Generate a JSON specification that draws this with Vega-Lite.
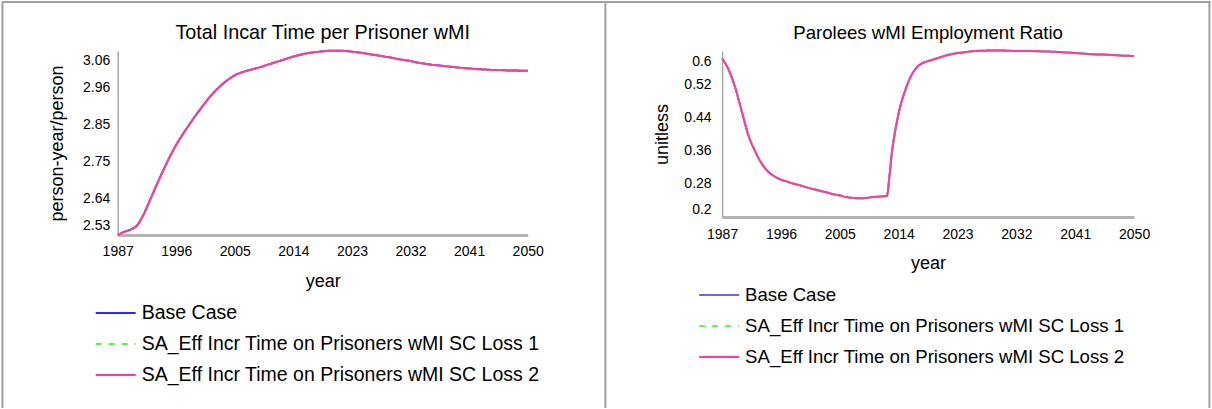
{
  "$schema": "https://vega.github.io/schema/vega-lite/v6.json",
  "background": "white",
  "padding": {"left": 1.5, "top": 1.5, "right": 0, "bottom": 0},
  "datasets": {
    "incar": [
      {"year": 1987, "base": 2.530, "sa1": 2.530, "sa2": 2.530}, {"year": 1988, "base": 2.539, "sa1": 2.539, "sa2": 2.539},
      {"year": 1989, "base": 2.546, "sa1": 2.546, "sa2": 2.546}, {"year": 1990, "base": 2.558, "sa1": 2.558, "sa2": 2.558},
      {"year": 1991, "base": 2.590, "sa1": 2.590, "sa2": 2.590}, {"year": 1992, "base": 2.632, "sa1": 2.632, "sa2": 2.632},
      {"year": 1993, "base": 2.675, "sa1": 2.675, "sa2": 2.675}, {"year": 1994, "base": 2.716, "sa1": 2.716, "sa2": 2.716},
      {"year": 1995, "base": 2.755, "sa1": 2.755, "sa2": 2.755}, {"year": 1996, "base": 2.790, "sa1": 2.790, "sa2": 2.790},
      {"year": 1997, "base": 2.820, "sa1": 2.820, "sa2": 2.820}, {"year": 1998, "base": 2.848, "sa1": 2.848, "sa2": 2.848},
      {"year": 1999, "base": 2.875, "sa1": 2.875, "sa2": 2.875}, {"year": 2000, "base": 2.900, "sa1": 2.900, "sa2": 2.900},
      {"year": 2001, "base": 2.924, "sa1": 2.924, "sa2": 2.924}, {"year": 2002, "base": 2.945, "sa1": 2.945, "sa2": 2.945},
      {"year": 2003, "base": 2.963, "sa1": 2.963, "sa2": 2.963}, {"year": 2004, "base": 2.978, "sa1": 2.978, "sa2": 2.978},
      {"year": 2005, "base": 2.990, "sa1": 2.990, "sa2": 2.990}, {"year": 2006, "base": 2.998, "sa1": 2.998, "sa2": 2.998},
      {"year": 2007, "base": 3.004, "sa1": 3.004, "sa2": 3.004}, {"year": 2008, "base": 3.009, "sa1": 3.009, "sa2": 3.009},
      {"year": 2009, "base": 3.014, "sa1": 3.014, "sa2": 3.014}, {"year": 2010, "base": 3.020, "sa1": 3.020, "sa2": 3.020},
      {"year": 2011, "base": 3.026, "sa1": 3.026, "sa2": 3.026}, {"year": 2012, "base": 3.032, "sa1": 3.032, "sa2": 3.032},
      {"year": 2013, "base": 3.038, "sa1": 3.038, "sa2": 3.038}, {"year": 2014, "base": 3.044, "sa1": 3.044, "sa2": 3.044},
      {"year": 2015, "base": 3.049, "sa1": 3.049, "sa2": 3.049}, {"year": 2016, "base": 3.053, "sa1": 3.053, "sa2": 3.053},
      {"year": 2017, "base": 3.056, "sa1": 3.056, "sa2": 3.056}, {"year": 2018, "base": 3.058, "sa1": 3.058, "sa2": 3.058},
      {"year": 2019, "base": 3.060, "sa1": 3.060, "sa2": 3.060}, {"year": 2020, "base": 3.061, "sa1": 3.061, "sa2": 3.061},
      {"year": 2021, "base": 3.061, "sa1": 3.061, "sa2": 3.061}, {"year": 2022, "base": 3.060, "sa1": 3.060, "sa2": 3.060},
      {"year": 2023, "base": 3.058, "sa1": 3.058, "sa2": 3.058}, {"year": 2024, "base": 3.056, "sa1": 3.056, "sa2": 3.056},
      {"year": 2025, "base": 3.053, "sa1": 3.053, "sa2": 3.053}, {"year": 2026, "base": 3.050, "sa1": 3.050, "sa2": 3.050},
      {"year": 2027, "base": 3.047, "sa1": 3.047, "sa2": 3.047}, {"year": 2028, "base": 3.044, "sa1": 3.044, "sa2": 3.044},
      {"year": 2029, "base": 3.041, "sa1": 3.041, "sa2": 3.041}, {"year": 2030, "base": 3.037, "sa1": 3.037, "sa2": 3.037},
      {"year": 2031, "base": 3.034, "sa1": 3.034, "sa2": 3.034}, {"year": 2032, "base": 3.031, "sa1": 3.031, "sa2": 3.031},
      {"year": 2033, "base": 3.027, "sa1": 3.027, "sa2": 3.027}, {"year": 2034, "base": 3.024, "sa1": 3.024, "sa2": 3.024},
      {"year": 2035, "base": 3.021, "sa1": 3.021, "sa2": 3.021}, {"year": 2036, "base": 3.019, "sa1": 3.019, "sa2": 3.019},
      {"year": 2037, "base": 3.017, "sa1": 3.017, "sa2": 3.017}, {"year": 2038, "base": 3.015, "sa1": 3.015, "sa2": 3.015},
      {"year": 2039, "base": 3.013, "sa1": 3.013, "sa2": 3.013}, {"year": 2040, "base": 3.011, "sa1": 3.011, "sa2": 3.011},
      {"year": 2041, "base": 3.010, "sa1": 3.010, "sa2": 3.010}, {"year": 2042, "base": 3.008, "sa1": 3.008, "sa2": 3.008},
      {"year": 2043, "base": 3.007, "sa1": 3.007, "sa2": 3.007}, {"year": 2044, "base": 3.006, "sa1": 3.006, "sa2": 3.006},
      {"year": 2045, "base": 3.005, "sa1": 3.005, "sa2": 3.005}, {"year": 2046, "base": 3.005, "sa1": 3.005, "sa2": 3.005},
      {"year": 2047, "base": 3.004, "sa1": 3.004, "sa2": 3.004}, {"year": 2048, "base": 3.004, "sa1": 3.004, "sa2": 3.004},
      {"year": 2049, "base": 3.003, "sa1": 3.003, "sa2": 3.003}, {"year": 2050, "base": 3.003, "sa1": 3.003, "sa2": 3.003}
    ],
    "parole": [
      {"year": 1987, "base": 0.582, "sa1": 0.582, "sa2": 0.582}, {"year": 1988, "base": 0.555, "sa1": 0.555, "sa2": 0.555},
      {"year": 1989, "base": 0.512, "sa1": 0.512, "sa2": 0.512}, {"year": 1990, "base": 0.455, "sa1": 0.455, "sa2": 0.455},
      {"year": 1991, "base": 0.398, "sa1": 0.398, "sa2": 0.398}, {"year": 1992, "base": 0.360, "sa1": 0.360, "sa2": 0.360},
      {"year": 1993, "base": 0.330, "sa1": 0.330, "sa2": 0.330}, {"year": 1994, "base": 0.310, "sa1": 0.310, "sa2": 0.310},
      {"year": 1995, "base": 0.298, "sa1": 0.298, "sa2": 0.298}, {"year": 1996, "base": 0.290, "sa1": 0.290, "sa2": 0.290},
      {"year": 1997, "base": 0.285, "sa1": 0.285, "sa2": 0.285}, {"year": 1998, "base": 0.280, "sa1": 0.280, "sa2": 0.280},
      {"year": 1999, "base": 0.276, "sa1": 0.276, "sa2": 0.276}, {"year": 2000, "base": 0.271, "sa1": 0.271, "sa2": 0.271},
      {"year": 2001, "base": 0.267, "sa1": 0.267, "sa2": 0.267}, {"year": 2002, "base": 0.263, "sa1": 0.263, "sa2": 0.263},
      {"year": 2003, "base": 0.259, "sa1": 0.259, "sa2": 0.259}, {"year": 2004, "base": 0.255, "sa1": 0.255, "sa2": 0.255},
      {"year": 2005, "base": 0.252, "sa1": 0.252, "sa2": 0.252}, {"year": 2006, "base": 0.248, "sa1": 0.248, "sa2": 0.248},
      {"year": 2007, "base": 0.246, "sa1": 0.246, "sa2": 0.246}, {"year": 2008, "base": 0.245, "sa1": 0.245, "sa2": 0.245},
      {"year": 2009, "base": 0.246, "sa1": 0.246, "sa2": 0.246}, {"year": 2010, "base": 0.248, "sa1": 0.248, "sa2": 0.248},
      {"year": 2011, "base": 0.249, "sa1": 0.249, "sa2": 0.249}, {"year": 2012.2, "base": 0.251, "sa1": 0.251, "sa2": 0.251},
      {"year": 2012.6, "base": 0.300, "sa1": 0.300, "sa2": 0.300}, {"year": 2013, "base": 0.360, "sa1": 0.360, "sa2": 0.360},
      {"year": 2013.5, "base": 0.410, "sa1": 0.410, "sa2": 0.410}, {"year": 2014, "base": 0.450, "sa1": 0.450, "sa2": 0.450},
      {"year": 2015, "base": 0.505, "sa1": 0.505, "sa2": 0.505}, {"year": 2016, "base": 0.543, "sa1": 0.543, "sa2": 0.543},
      {"year": 2017, "base": 0.564, "sa1": 0.564, "sa2": 0.564}, {"year": 2018, "base": 0.573, "sa1": 0.573, "sa2": 0.573},
      {"year": 2019, "base": 0.578, "sa1": 0.578, "sa2": 0.578}, {"year": 2020, "base": 0.583, "sa1": 0.583, "sa2": 0.583},
      {"year": 2021, "base": 0.588, "sa1": 0.588, "sa2": 0.588}, {"year": 2022, "base": 0.592, "sa1": 0.592, "sa2": 0.592},
      {"year": 2023, "base": 0.595, "sa1": 0.595, "sa2": 0.595}, {"year": 2024, "base": 0.597, "sa1": 0.597, "sa2": 0.597},
      {"year": 2025, "base": 0.599, "sa1": 0.599, "sa2": 0.599}, {"year": 2026, "base": 0.600, "sa1": 0.600, "sa2": 0.600},
      {"year": 2028, "base": 0.601, "sa1": 0.601, "sa2": 0.601}, {"year": 2030, "base": 0.601, "sa1": 0.601, "sa2": 0.601},
      {"year": 2032, "base": 0.600, "sa1": 0.600, "sa2": 0.600}, {"year": 2034, "base": 0.600, "sa1": 0.600, "sa2": 0.600},
      {"year": 2036, "base": 0.599, "sa1": 0.599, "sa2": 0.599}, {"year": 2038, "base": 0.598, "sa1": 0.598, "sa2": 0.598},
      {"year": 2040, "base": 0.596, "sa1": 0.596, "sa2": 0.596}, {"year": 2042, "base": 0.594, "sa1": 0.594, "sa2": 0.594},
      {"year": 2044, "base": 0.592, "sa1": 0.592, "sa2": 0.592}, {"year": 2046, "base": 0.591, "sa1": 0.591, "sa2": 0.591},
      {"year": 2048, "base": 0.589, "sa1": 0.589, "sa2": 0.589}, {"year": 2050, "base": 0.588, "sa1": 0.588, "sa2": 0.588}
    ]
  },
  "config": {
    "font": "Liberation Sans",
    "view": {"stroke": null},
    "axis": {"ticks": false, "grid": false, "labelColor": "#000000", "labelFontSize": 14, "titleFontSize": 18, "titleFontWeight": "normal", "titleColor": "#000000", "domainColor": "#a8a8a8"},
    "title": {"fontSize": 19, "fontWeight": "normal", "color": "#000000", "offset": 4},
    "legend": {"padding": 0, "labelFontSize": 19.5, "labelColor": "#000000", "symbolType": "M-2,0L2,0", "symbolSize": 400, "symbolStrokeWidth": 2, "labelOffset": 15, "rowPadding": 10, "labelLimit": 600}
  },
  "bounds": "flush",
  "spacing": 48.5,
  "resolve": {"scale": {"color": "independent", "strokeDash": "independent"}, "legend": {"color": "independent", "strokeDash": "independent"}},
  "vconcat": [
    {
      "width": 1208,
      "height": 1,
      "data": {"values": []},
      "mark": "point",
      "encoding": {"x": {"field": "a", "type": "quantitative", "scale": {"domain": [0, 1]},
        "axis": {"orient": "top", "offset": 0, "position": -37.6, "labels": false, "ticks": false, "grid": false, "title": null, "domainColor": "#a0a0a0", "domainWidth": 2}}}
    },
    {
      "bounds": "flush",
      "spacing": 77.2,
      "resolve": {"scale": {"color": "independent", "strokeDash": "independent"}, "legend": {"color": "independent", "strokeDash": "independent"}},
      "hconcat": [
        {
          "width": 1,
          "height": 406,
          "data": {"values": []},
          "mark": "point",
          "encoding": {"y": {"field": "a", "type": "quantitative", "scale": {"domain": [0, 1]},
            "axis": {"orient": "left", "offset": 37.6, "position": -49.5, "labels": false, "ticks": false, "grid": false, "title": null, "domainColor": "#a0a0a0", "domainWidth": 2}}}
        },
        {
          "width": 410,
          "height": 184,
          "title": {"text": "Total Incar Time per Prisoner wMI", "fontSize": 19.8},
          "data": {"name": "incar"},
          "transform": [
            {"fold": ["base", "sa1", "sa2"], "as": ["key", "value"]},
            {"lookup": "key", "from": {"data": {"values": [
              {"key": "base", "series": "Base Case"},
              {"key": "sa1", "series": "SA_Eff Incr Time on Prisoners wMI SC Loss 1"},
              {"key": "sa2", "series": "SA_Eff Incr Time on Prisoners wMI SC Loss 2"}]}, "key": "key", "fields": ["series"]}}
          ],
          "mark": {"type": "line", "strokeWidth": 2, "interpolate": "monotone"},
          "encoding": {
            "x": {"field": "year", "type": "quantitative", "scale": {"domain": [1987, 2050], "nice": false, "zero": false},
                  "axis": {"title": "year", "values": [1987, 1996, 2005, 2014, 2023, 2032, 2041, 2050], "format": "d", "domainWidth": 3, "domainColor": "#b4b4b4", "labelPadding": 9, "titlePadding": 14, "labelFlush": false}},
            "y": {"field": "value", "type": "quantitative", "scale": {"domain": [2.53, 3.06], "nice": false, "zero": false},
                  "axis": {"title": "person-year/person", "values": [2.53, 2.636, 2.742, 2.848, 2.954, 3.06], "labelExpr": "['2.53','2.64','2.75','2.85','2.96','3.06'][round((datum.value-2.53)/0.106)]", "labelFlush": false,
                           "labelOffset": {"condition": [{"test": "datum.value < 2.54", "value": -10}, {"test": "datum.value > 3.05", "value": 9}], "value": 0},
                           "domainWidth": 1.5, "labelPadding": 8, "titlePadding": 16}},
            "color": {"field": "series", "type": "nominal", "scale": {"range": ["#2a2aff", "#44ff44", "#ff3c9c"]},
                      "legend": {"title": null, "orient": "none", "legendX": -13, "legendY": 251, "direction": "vertical"}},
            "strokeDash": {"field": "series", "type": "nominal", "scale": {"range": [[1, 0], [6, 7], [1, 0]]},
                           "legend": {"title": null, "orient": "none", "legendX": -13, "legendY": 251, "direction": "vertical"}}
          }
        },
        {
          "width": 40,
          "height": 406,
          "data": {"values": []},
          "mark": "point",
          "encoding": {"y": {"field": "a", "type": "quantitative", "scale": {"domain": [0, 1]},
            "axis": {"orient": "left", "offset": 0, "position": -49.5, "labels": false, "ticks": false, "grid": false, "title": null, "domainColor": "#a0a0a0", "domainWidth": 2}}}
        },
        {
          "width": 412,
          "height": 166,
          "title": {"text": "Parolees wMI Employment Ratio", "fontSize": 18.6},
          "data": {"name": "parole"},
          "transform": [
            {"fold": ["base", "sa1", "sa2"], "as": ["key", "value"]},
            {"lookup": "key", "from": {"data": {"values": [
              {"key": "base", "series": "Base Case"},
              {"key": "sa1", "series": "SA_Eff Incr Time on Prisoners wMI SC Loss 1"},
              {"key": "sa2", "series": "SA_Eff Incr Time on Prisoners wMI SC Loss 2"}]}, "key": "key", "fields": ["series"]}}
          ],
          "mark": {"type": "line", "strokeWidth": 2, "interpolate": "monotone"},
          "encoding": {
            "x": {"field": "year", "type": "quantitative", "scale": {"domain": [1987, 2050], "nice": false, "zero": false},
                  "axis": {"title": "year", "values": [1987, 1996, 2005, 2014, 2023, 2032, 2041, 2050], "format": "d", "domainWidth": 3, "domainColor": "#b4b4b4", "labelPadding": 10, "titlePadding": 13, "labelFlush": false}},
            "y": {"field": "value", "type": "quantitative", "scale": {"domain": [0.2, 0.6], "nice": false, "zero": false},
                  "axis": {"title": "unitless", "values": [0.2, 0.28, 0.36, 0.44, 0.52, 0.6], "format": ".2~f", "labelFlush": false,
                           "labelOffset": {"condition": [{"test": "datum.value < 0.21", "value": -8}, {"test": "datum.value > 0.59", "value": 10}], "value": 0},
                           "domainWidth": 1.5, "labelPadding": 11, "titlePadding": 12}},
            "color": {"field": "series", "type": "nominal", "scale": {"range": ["#6666ff", "#55ff55", "#ff3c9c"]},
                      "legend": {"title": null, "orient": "none", "legendX": -14, "legendY": 233, "direction": "vertical", "labelFontSize": 18.6}},
            "strokeDash": {"field": "series", "type": "nominal", "scale": {"range": [[1, 0], [6, 7], [1, 0]]},
                           "legend": {"title": null, "orient": "none", "legendX": -14, "legendY": 233, "direction": "vertical", "labelFontSize": 18.6}}
          }
        },
        {
          "width": 1,
          "height": 406,
          "data": {"values": []},
          "mark": "point",
          "encoding": {"y": {"field": "a", "type": "quantitative", "scale": {"domain": [0, 1]},
            "axis": {"orient": "left", "offset": 2.4, "position": -49.5, "labels": false, "ticks": false, "grid": false, "title": null, "domainColor": "#a0a0a0", "domainWidth": 2}}}
        }
      ]
    },
    {
      "width": 1208,
      "height": 1,
      "data": {"values": []},
      "mark": "point",
      "encoding": {"x": {"field": "a", "type": "quantitative", "scale": {"domain": [0, 1]},
        "axis": {"orient": "top", "offset": 98, "position": -37.6, "labels": false, "ticks": false, "grid": false, "title": null, "domainColor": "#a0a0a0", "domainWidth": 2}}}
    }
  ]
}
